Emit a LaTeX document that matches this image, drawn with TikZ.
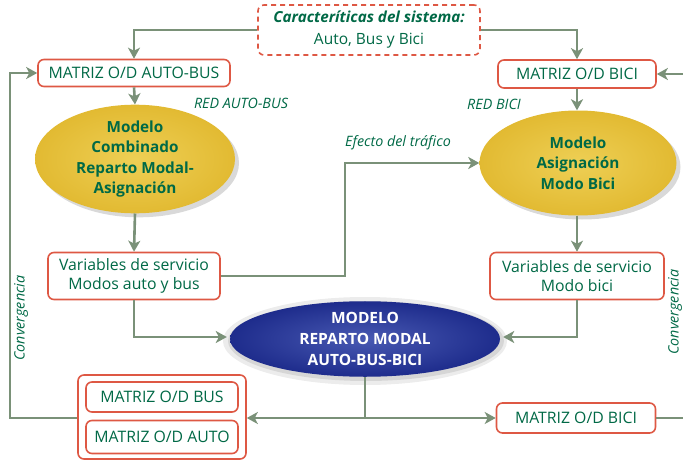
\documentclass[tikz,border=0pt]{standalone}
\usepackage{fontspec}
\setmainfont{Open Sans}
\usetikzlibrary{arrows.meta,shapes.geometric,shadows,calc}
\definecolor{txtgreen}{RGB}{0,105,70}
\definecolor{arrgray}{RGB}{122,145,120}
\definecolor{boxred}{RGB}{222,88,68}
\definecolor{yelE}{RGB}{236,202,66}
\definecolor{yelEd}{RGB}{226,186,50}
\definecolor{bluE}{RGB}{40,60,165}
\definecolor{bluEd}{RGB}{30,44,140}
\tikzset{
  box/.style={draw=boxred,line width=1.6pt,rounded corners=6pt,fill=white,text=txtgreen,align=center,inner sep=0pt,font=\fontsize{15.8}{19.5}\selectfont},
  yell/.style={ellipse,inner sep=0pt,shading=radial,inner color=yelE!90!white,outer color=yelEd,text=txtgreen,align=center,font=\fontsize{15.3}{20.5}\selectfont\bfseries,drop shadow={opacity=0.3,shadow xshift=4pt,shadow yshift=-4pt}},
  blu/.style={ellipse,inner sep=0pt,shading=radial,inner color=bluE!85!white,outer color=bluEd,text=white,align=center,font=\fontsize{15.5}{21}\selectfont\bfseries},
  arr/.style={draw=arrgray,line width=2.6pt,-{Stealth[length=11pt,width=12pt,inset=3pt]}},
  ln/.style={draw=arrgray,line width=2.6pt},
  lbl/.style={text=txtgreen,font=\fontsize{14.3}{16}\selectfont\itshape,inner sep=0pt}
}
\begin{document}
\begin{tikzpicture}[x=1pt,y=-1pt]
\useasboundingbox (0,0) rectangle (683,460);
\clip (0,0) rectangle (683,460);
% nodes
\node[box,dashed,dash pattern=on 5pt off 4pt,minimum width=222pt,minimum height=50pt,font=\fontsize{15.5}{22}\selectfont] (sys) at (369,30)
  {{\fontsize{15.2}{22}\selectfont\bfseries\itshape Caracteríticas del sistema:}\\Auto, Bus y Bici};
\node[box,minimum width=192pt,minimum height=27pt] (mab) at (134,73) {MATRIZ O/D AUTO-BUS};
\node[box,minimum width=158pt,minimum height=28pt] (mbici) at (577,74) {MATRIZ O/D BICI};
\node[yell,minimum width=200pt,minimum height=102pt] (e1) at (135,159) {Modelo\\Combinado\\Reparto Modal-\\Asignación};
\node[yell,minimum width=197pt,minimum height=105pt] (e2) at (578,163) {Modelo\\Asignación\\Modo Bici};
\node[box,minimum width=172pt,minimum height=47pt] (vab) at (134,276) {Variables de servicio\\Modos auto y bus};
\node[box,minimum width=174pt,minimum height=47pt] (vbici) at (577,276) {Variables de servicio\\Modo bici};
% blue ellipse with halo
\fill[gray!60,opacity=0.25] (365,341) ellipse (142pt and 44pt);
\fill[gray!70,opacity=0.3] (366,341) ellipse (138pt and 40pt);
\node[blu,minimum width=270pt,minimum height=75pt] (eb) at (365,339) {MODELO\\REPARTO MODAL\\AUTO-BUS-BICI};
\node[box,minimum width=168pt,minimum height=84pt] (outer) at (162,417) {};
\node[box,minimum width=152pt,minimum height=30pt] (mbus) at (162,397) {MATRIZ O/D BUS};
\node[box,minimum width=152pt,minimum height=33pt] (mauto) at (162,437) {MATRIZ O/D AUTO};
\node[box,minimum width=159pt,minimum height=30pt] (mbici2) at (576,418) {MATRIZ O/D BICI};
% labels
\node[lbl] (l1) at (241,103) {RED AUTO-BUS};
\node[lbl] (l2) at (494,104) {RED BICI};
\node[lbl] (l3) at (398,143) {Efecto del tráfico};
\node[lbl,rotate=90] (l4) at (21,318) {Convergencia};
\node[lbl,rotate=90] (l5) at (675,312) {Convergencia};
% coordinates
\coordinate (kx) at (345,0);
\coordinate (lx) at (10,0);
\coordinate (rx) at (692,0);
% connectors
\draw[arr] (sys.west) -| (mab.north);
\draw[arr] (sys.east) -| (mbici.north);
\draw[arr] (mab.south) -- (e1.north);
\draw[arr] (mbici.south) -- (mbici.south |- e2.north);
\draw[arr] (e1.south) -- (vab.north);
\draw[arr] (vbici.north |- e2.south) -- (vbici.north);
\draw[arr] (vab.east) -| (kx |- e2.west) -- (e2.west);
\draw[arr] (vab.south) |- ($(eb.west)+(-3,-2)$);
\draw[arr] (vbici.south) |- ($(eb.east)+(3,-2)$);
\coordinate (j) at (eb.south |- mbici2.west);
\draw[ln] (eb.south) -- (j);
\draw[arr] (j) -- (mbici2.west);
\draw[arr] (j) -- (outer.east |- j);
\draw[arr] (outer.west |- j) -| (lx |- mab.west) -- (mab.west);
\draw[arr] (mbici2.east) -| (rx |- mbici.east) -- (mbici.east);
\end{tikzpicture}
\end{document}
